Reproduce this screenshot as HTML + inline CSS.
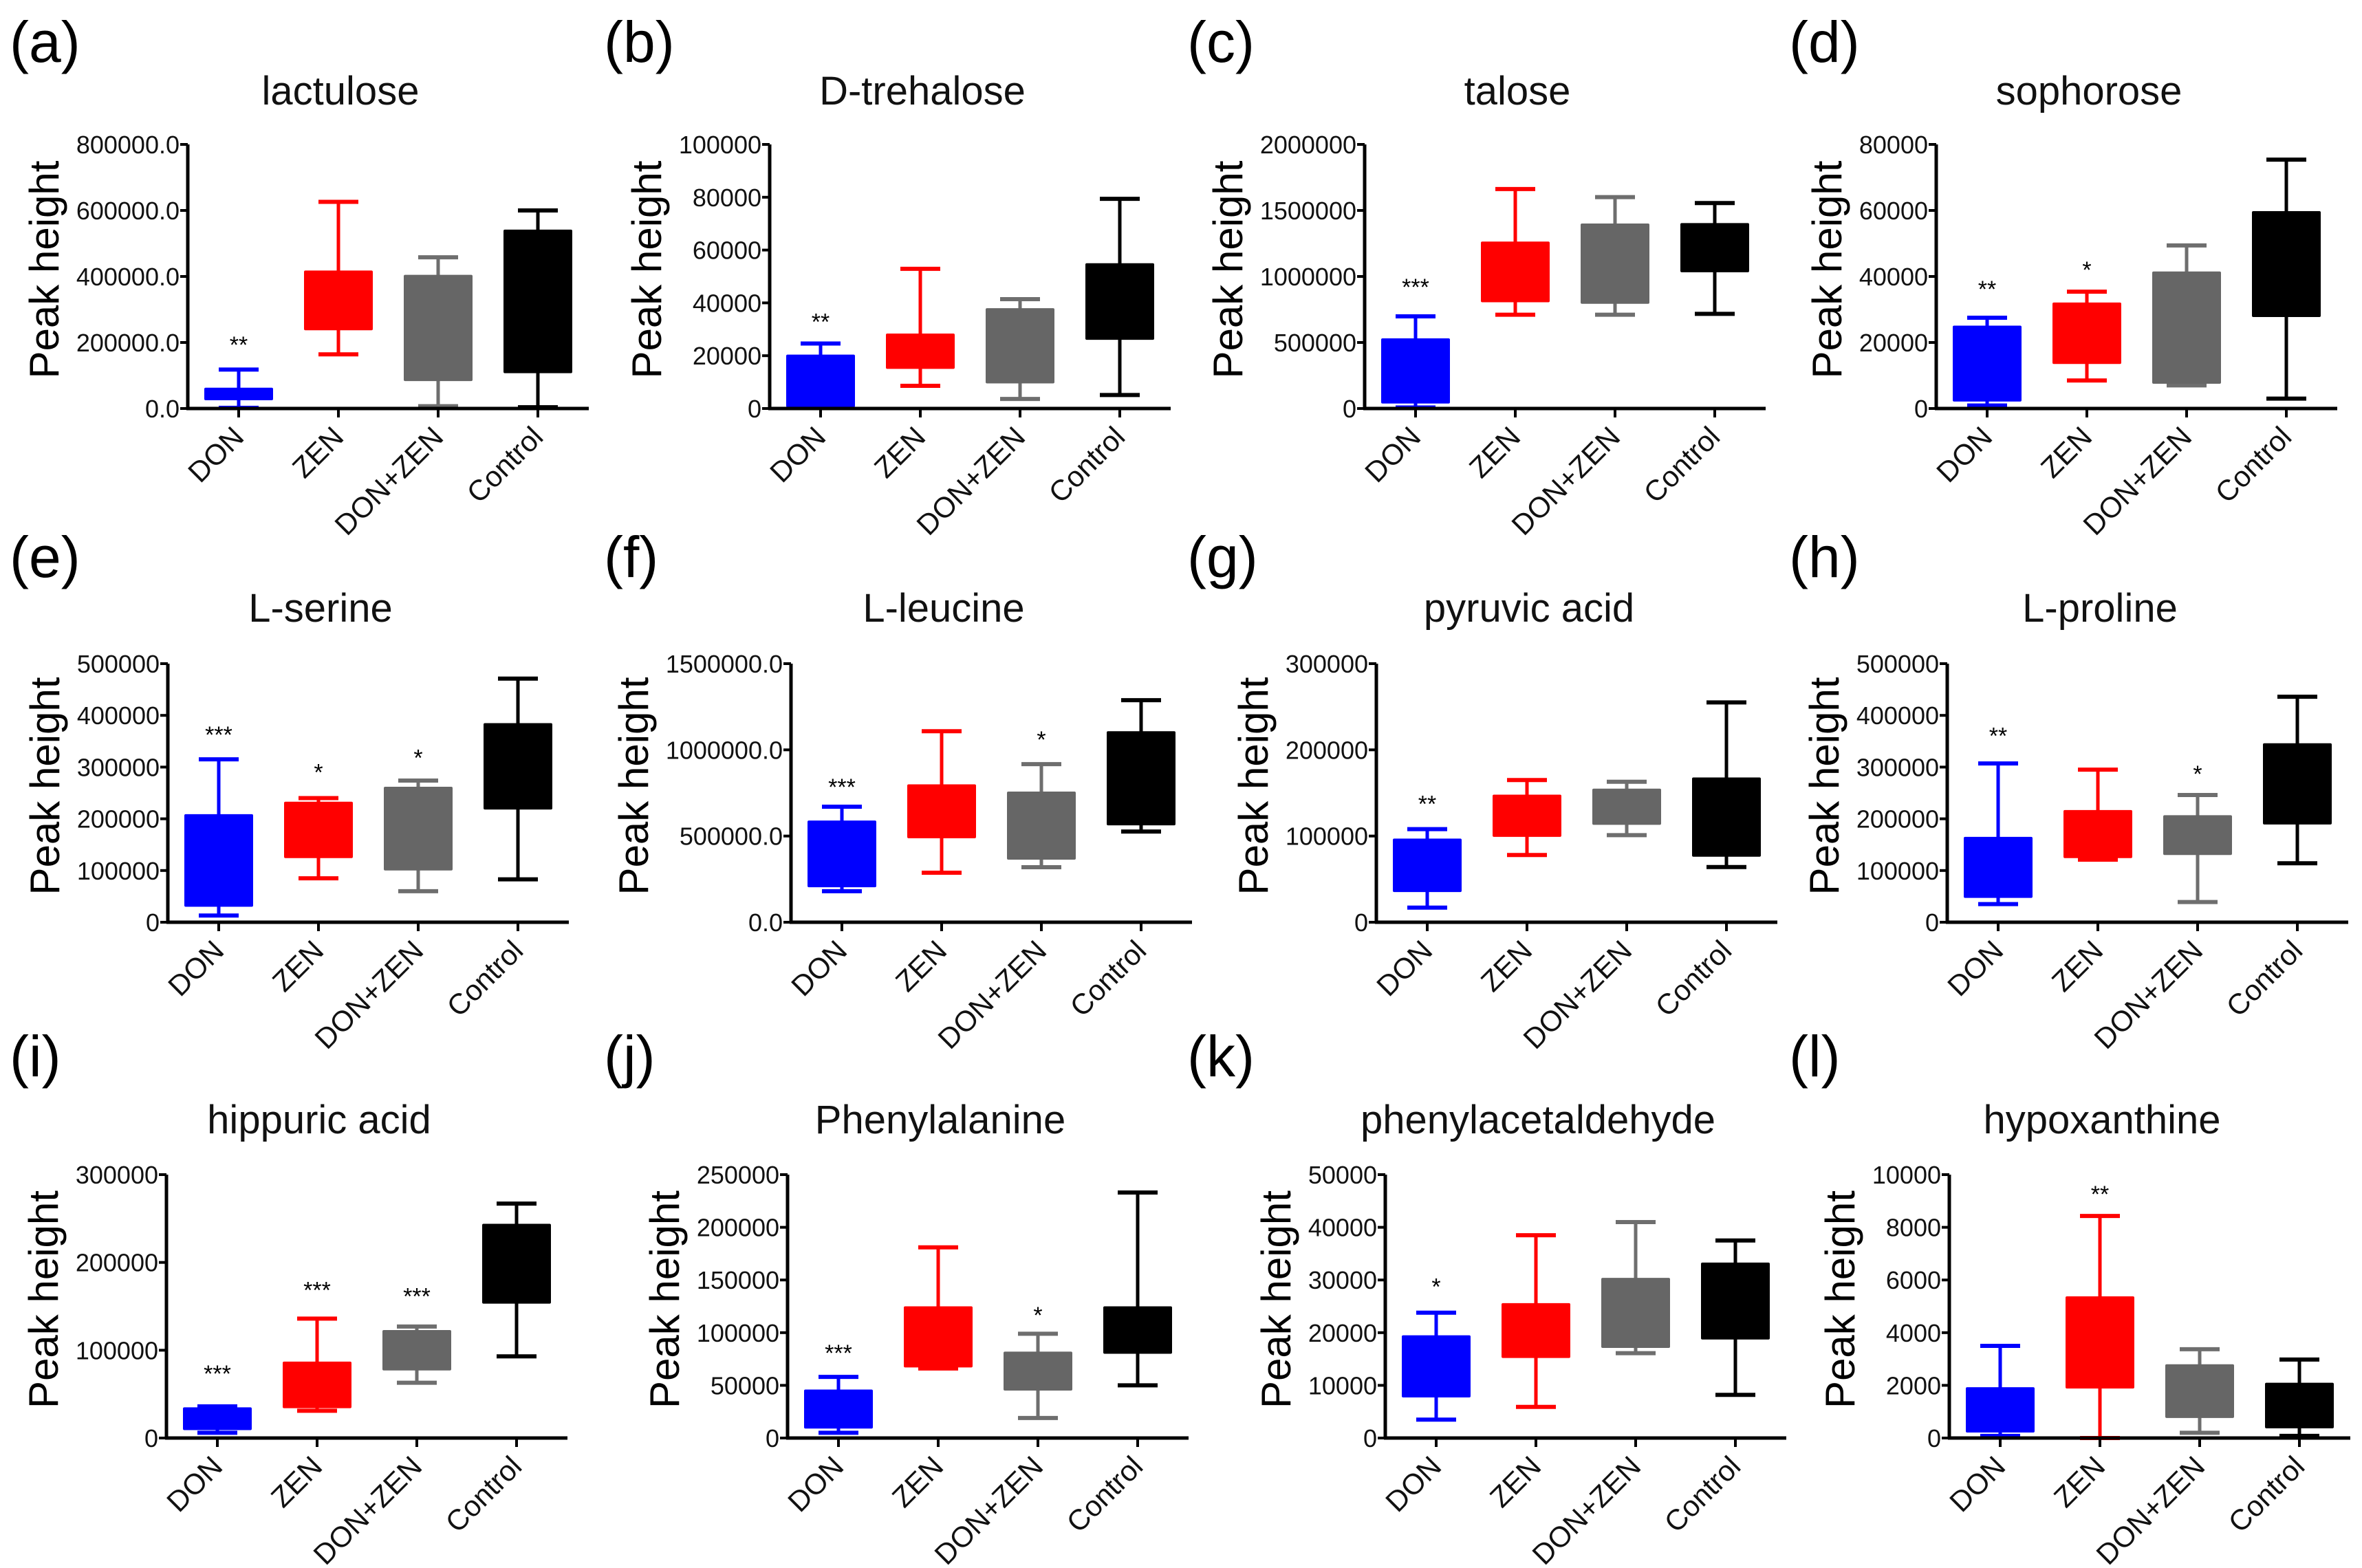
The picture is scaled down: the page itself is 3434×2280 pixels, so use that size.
<!DOCTYPE html>
<html><head><meta charset="utf-8"><style>
html,body{margin:0;padding:0;background:#fff;}
svg{display:block;font-family:"Liberation Sans",Arial,sans-serif;}
</style></head><body>
<svg id="fig" width="3434" height="2280" viewBox="0 0 3434 2280" xmlns="http://www.w3.org/2000/svg"></svg>
<script>
// ---- data ----
const panelLetters = ["(a)","(b)","(c)","(d)","(e)","(f)","(g)","(h)","(i)","(j)","(k)","(l)"];
const titles = ["lactulose","D-trehalose","talose","sophorose","L-serine","L-leucine","pyruvic acid","L-proline","hippuric acid","Phenylalanine","phenylacetaldehyde","hypoxanthine"];
const categories = ["DON","ZEN","DON+ZEN","Control"];
const yMax = [800000,100000,2000000,80000,500000,1500000,300000,500000,300000,250000,50000,10000];
const yStep = [200000,20000,500000,20000,100000,500000,100000,100000,100000,50000,10000,2000];
const tickDecimals = [1,0,0,0,0,1,0,0,0,0,0,0];
// per panel: [DON, ZEN, DON+ZEN, Control]
const whiskerMin = [
 [2000,164000,7000,4000],[300,8600,3600,5100],[8000,710000,710000,717000],[900,8500,7000,3000],
 [13000,85000,60000,83000],[180000,287000,319000,526000],[17000,78000,101000,64000],[35000,121000,39000,114000],
 [6000,31000,63000,93000],[5000,66000,19000,50000],[3500,5900,16100,8200],[80,0,200,80]];
const boxLow = [
 [25000,237000,83000,107000],[500,15000,9500,26000],[38000,805000,793000,1032000],[2100,13500,7500,27700],
 [30000,124000,100000,218000],[203000,487000,363000,562000],[35000,99000,113000,76000],[47000,124000,130000,189000],
 [9000,34000,77000,153000],[9000,67000,45000,80000],[7700,15200,17100,18700],[210,1880,760,370]];
const boxHigh = [
 [63000,418000,405000,542000],[20400,28400,38000,55000],[531000,1264000,1401000,1404000],[25100,32100,41500,59800],
 [209000,233000,262000,385000],[590000,800000,758000,1108000],[97000,148000,155000,168000],[165000,217000,207000,346000],
 [35000,87000,123000,244000],[46000,125000,82000,125000],[19500,25600,30400,33300],[1930,5380,2800,2100]];
const whiskerMax = [
 [118000,626000,458000,600000],[24600,52900,41400,79400],[698000,1662000,1601000,1556000],[27500,35400,49400,75400],
 [315000,240000,274000,471000],[670000,1108000,917000,1288000],[108000,165000,163000,255000],[307000,295000,246000,436000],
 [36000,136000,127000,267000],[58000,181000,99000,233000],[23800,38500,41000,37500],[3500,8430,3370,2980]];
const starText = [
 ["**","","",""],["**","","",""],["***","","",""],["**","*","",""],
 ["***","*","*",""],["***","","*",""],["**","","",""],["**","","*",""],
 ["***","***","***",""],["***","","*",""],["*","","",""],["","**","",""]];
const starValue = [
 [210000,0,0,0],[35000,0,0,0],[964000,0,0,0],[37900,43800,0,0],
 [374000,301000,329000,0],[817000,0,1093000,0],[144000,0,0,0],[372000,0,298000,0],
 [80000,175000,168000,0],[86000,0,122000,0],[29800,0,0,0],[0,9480,0,0]];

// ---- layout (pixels) ----
const axisLeft = [273,1119,1984,2815, 244,1150,2001,2831, 242,1145,2014,2834];
const rowTop = [210,965,1708];
const rowBottom = [594,1341,2091];
const titleBase = [152,904,1648];
const letterBase = [90,839,1565];
const letterX = [14,878,1726,2601];
const fills = ["#0000ff","#ff0000","#666666","#000000"];
const strokes = ["#0000ff","#ff0000","#6e6e6e","#000000"];
const CAT0 = 74, CATSTEP = 145, AXLEN = 583, BOXW = 100, CAPW = 58;

const NS = "http://www.w3.org/2000/svg";
const svg = document.getElementById("fig");
function mk(tag, attrs, parent){
  const e = document.createElementNS(NS, tag);
  for (const k in attrs) e.setAttribute(k, attrs[k]);
  (parent||svg).appendChild(e);
  return e;
}

for (let p = 0; p < 12; p++) {
  const row = Math.floor(p/4), col = p%4;
  const L = axisLeft[p], T = rowTop[row], B = rowBottom[row];
  const g = mk("g", {});
  
  
  const y = v => B - (v / yMax[p]) * (B - T);
  const x = i => L + CAT0 + i * CATSTEP;

  const lt = mk("text", {x: letterX[col], y: letterBase[row], "font-size": 84, fill: "#000"}, g);
  lt.textContent = panelLetters[p];
  
  

  const tt = mk("text", {x: L + 222, y: titleBase[row], "font-size": 58, "text-anchor": "middle", fill: "#111"}, g);
  tt.textContent = titles[p];
  
  

  let maxChars = 0;
  for (let v = 0; v <= yMax[p] + 1e-6; v += yStep[p]) {
    const yy = y(v);
    const tk = mk("line", {x1: L - 11, x2: L, y1: yy, y2: yy, stroke: "#000", "stroke-width": 4}, g);
    
    
    const s = v.toFixed(tickDecimals[p]);
    const w = s.replace('.','').length * 20 + (s.includes('.') ? 10 : 0);
    if (w > maxChars) maxChars = w;
    const tl = mk("text", {x: L - 12, y: yy + 13, "font-size": 36, "text-anchor": "end", fill: "#111"}, g);
    tl.textContent = s;
    
    
  }
  const yt = L - 12 - maxChars - 26, yc = (T + B) / 2 - 10;
  const ytl = mk("text", {x: yt, y: yc, "font-size": 60, "text-anchor": "middle", fill: "#000", transform: `rotate(-90 ${yt} ${yc})`}, g);
  ytl.textContent = "Peak height";
  
  

  for (let i = 0; i < 4; i++) {
    const cx = x(i);
    const wl = mk("line", {x1: cx, x2: cx, y1: y(whiskerMin[p][i]), y2: y(whiskerMax[p][i]), stroke: strokes[i], "stroke-width": 5}, g);
    
    
    for (const v of [whiskerMin[p][i], whiskerMax[p][i]]) {
      const cp = mk("line", {x1: cx - CAPW/2, x2: cx + CAPW/2, y1: y(v), y2: y(v), stroke: strokes[i], "stroke-width": 6}, g);
      
      
    }
    const bx = mk("rect", {x: cx - BOXW/2, y: y(boxHigh[p][i]), width: BOXW, height: Math.max(1, y(boxLow[p][i]) - y(boxHigh[p][i])), fill: fills[i], rx: 2}, g);
    
    
    if (starText[p][i]) {
      const st = mk("text", {x: cx, y: y(starValue[p][i]) + 20, "font-size": 34, "text-anchor": "middle", fill: "#000"}, g);
      st.textContent = starText[p][i];
      
      
    }
    const xt = mk("line", {x1: cx, x2: cx, y1: B, y2: B + 13, stroke: "#000", "stroke-width": 4}, g);
    
    
    const ax = cx + 10, ay = B + 44;
    const xl = mk("text", {x: ax, y: ay, "font-size": 42, "text-anchor": "end", fill: "#111", transform: `rotate(-45 ${ax} ${ay})`}, g);
    xl.textContent = categories[i];
    
    
  }

  const ya = mk("line", {x1: L, x2: L, y1: T, y2: B + 2, stroke: "#000", "stroke-width": 5}, g);
  
  
  const xa = mk("line", {x1: L - 2, x2: L + AXLEN, y1: B, y2: B, stroke: "#000", "stroke-width": 5}, g);
  
  
}
</script>
</body></html>
